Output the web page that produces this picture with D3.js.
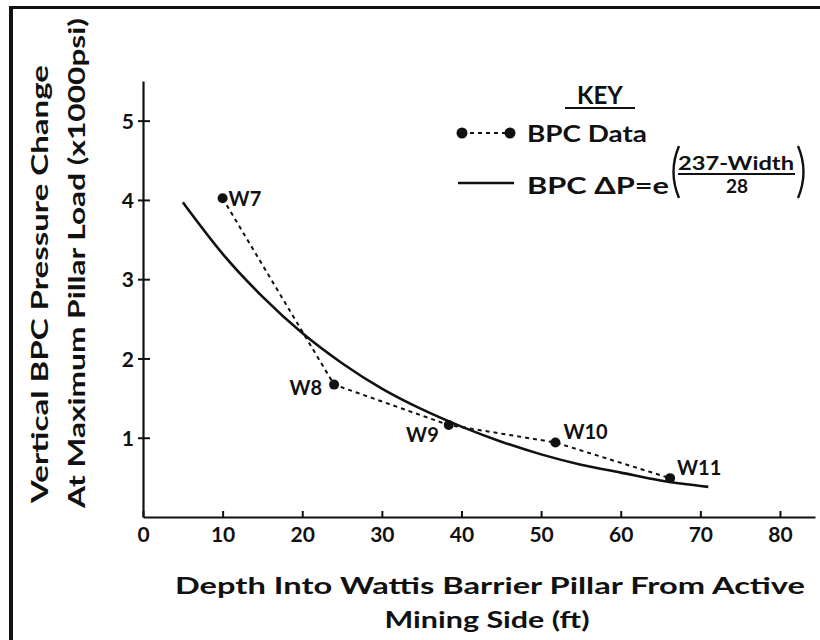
<!DOCTYPE html>
<html><head><meta charset="utf-8">
<script src="https://cdn.jsdelivr.net/npm/d3@7"></script>
<style>body{margin:0;background:#fff}svg{display:block}text{font-family:Lato,"DejaVu Sans",sans-serif;font-weight:700;fill:#111}</style>
</head><body><svg id="c" width="820" height="640"></svg>
<script>
const xTicks=[0,10,20,30,40,50,60,70,80];
const yTicks=[1,2,3,4,5];
const wells=["W7","W8","W9","W10","W11"];
const wellDepth=[10,24,38.4,51.8,66.2];
const wellDP=[4.02,1.67,1.16,0.94,0.49];
const curveDepth=[5,10,15,20,25,30,35,40,45,50,55,60,65,71];
const curveDP=[3.97,3.32,2.78,2.32,1.94,1.62,1.36,1.14,0.95,0.79,0.66,0.56,0.46,0.38];

const svg=d3.select("#c");
const x=d3.scaleLinear().domain([0,84.4]).range([143,815]);
const y=d3.scaleLinear().domain([0,5.5]).range([517,81]);
const ink="#111";

// border
svg.append("rect").attr("x",9).attr("y",6).attr("width",4).attr("height",634).attr("fill",ink);
svg.append("rect").attr("x",9).attr("y",6).attr("width",811).attr("height",3).attr("fill",ink);

// axes
const gx=svg.append("g").attr("transform","translate(0,517)")
 .call(d3.axisBottom(x).tickValues(xTicks).tickFormat(d3.format("d")).tickSizeInner(-6).tickSizeOuter(0).tickPadding(10));
gx.select(".domain").attr("stroke",ink).attr("stroke-width",2.2);
gx.selectAll(".tick line").attr("stroke",ink).attr("stroke-width",2);
gx.selectAll(".tick text").attr("font-size",21).attr("font-weight",600).attr("fill",ink).attr("dy","0.72em");

const gy=svg.append("g").attr("transform","translate(143,0)")
 .call(d3.axisLeft(y).tickValues(yTicks).tickFormat(d3.format("d")).tickSizeInner(5).tickSizeOuter(0).tickPadding(4));
gy.select(".domain").attr("stroke",ink).attr("stroke-width",2.2);
gy.selectAll(".tick line").attr("x1",7).attr("x2",-5).attr("stroke",ink).attr("stroke-width",2);
gy.selectAll(".tick text").attr("font-size",21).attr("fill",ink).attr("dy","0.36em");

// titles
function fitText(sel,len){sel.attr("textLength",len).attr("lengthAdjust","spacingAndGlyphs");}
svg.append("text").attr("transform","translate(39,284) rotate(-90)").attr("text-anchor","middle")
 .attr("dominant-baseline","central").attr("font-size",22).text("Vertical BPC Pressure Change").call(fitText,438);
svg.append("text").attr("transform","translate(76,263) rotate(-90)").attr("text-anchor","middle")
 .attr("dominant-baseline","central").attr("font-size",22).text("At Maximum Pillar Load (x1000psi)").call(fitText,490);
svg.append("text").attr("x",490).attr("y",594).attr("text-anchor","middle").attr("font-size",22)
 .text("Depth Into Wattis Barrier Pillar From Active").call(fitText,630);
svg.append("text").attr("x",487).attr("y",628).attr("text-anchor","middle").attr("font-size",22)
 .text("Mining Side (ft)").call(fitText,205);

// curve
const cpts=curveDepth.map((d,i)=>[d,curveDP[i]]);
svg.append("path").datum(cpts).attr("fill","none").attr("stroke",ink).attr("stroke-width",2.6)
 .attr("d",d3.line().x(d=>x(d[0])).y(d=>y(d[1])).curve(d3.curveMonotoneX));

// data
const wpts=wells.map((w,i)=>({w,d:wellDepth[i],v:wellDP[i]}));
svg.append("path").datum(wpts).attr("fill","none").attr("stroke",ink).attr("stroke-width",2)
 .attr("stroke-dasharray","4,4").attr("d",d3.line().x(d=>x(d.d)).y(d=>y(d.v)));
svg.selectAll("circle.pt").data(wpts).enter().append("circle").attr("class","pt")
 .attr("cx",d=>x(d.d)).attr("cy",d=>y(d.v)).attr("r",5).attr("fill",ink);
const lblOff={W7:[6,0,"start"],W8:[-12,3,"end"],W9:[-10,10,"end"],W10:[8,-11,"start"],W11:[7,-10,"start"]};
svg.selectAll("text.wl").data(wpts).enter().append("text").attr("class","wl")
 .attr("x",d=>x(d.d)+lblOff[d.w][0]).attr("y",d=>y(d.v)+lblOff[d.w][1]).attr("dy","0.36em")
 .attr("text-anchor",d=>lblOff[d.w][2]).attr("font-size",20).text(d=>d.w);

// legend
const L=svg.append("g");
L.append("text").attr("x",600).attr("y",104).attr("text-anchor","middle").attr("font-size",24).attr("font-weight",400).text("KEY");
L.append("line").attr("x1",565).attr("x2",635).attr("y1",108).attr("y2",108).attr("stroke",ink).attr("stroke-width",2);
L.append("line").attr("x1",462).attr("x2",510).attr("y1",133).attr("y2",133).attr("stroke",ink).attr("stroke-width",2).attr("stroke-dasharray","4,4");
L.append("circle").attr("cx",462).attr("cy",133).attr("r",5.5).attr("fill",ink);
L.append("circle").attr("cx",510).attr("cy",133).attr("r",5.5).attr("fill",ink);
L.append("text").attr("x",527).attr("y",134).attr("dy","0.36em").attr("font-size",22).text("BPC Data").call(fitText,120);
L.append("line").attr("x1",458).attr("x2",514).attr("y1",183).attr("y2",183).attr("stroke",ink).attr("stroke-width",2.4);
L.append("text").attr("x",527).attr("y",186).attr("dy","0.36em").attr("font-size",22).text("BPC \u0394P=e").call(fitText,142);
L.append("text").attr("x",736).attr("y",170).attr("text-anchor","middle").attr("font-size",19).text("237-Width").call(fitText,116);
L.append("line").attr("x1",678).attr("x2",795).attr("y1",174).attr("y2",174).attr("stroke",ink).attr("stroke-width",2);
L.append("text").attr("x",737).attr("y",193).attr("text-anchor","middle").attr("font-size",19).text("28");
L.append("path").attr("d","M679,146 Q668,172 679,198").attr("fill","none").attr("stroke",ink).attr("stroke-width",2.4);
L.append("path").attr("d","M798,146 Q809,172 798,198").attr("fill","none").attr("stroke",ink).attr("stroke-width",2.4);
</script></body></html>
